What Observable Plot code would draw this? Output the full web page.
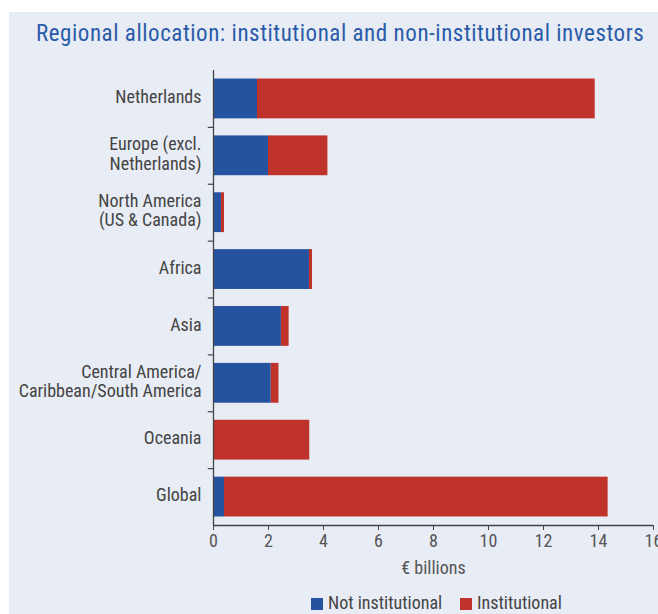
<!DOCTYPE html>
<html><head><meta charset="utf-8">
<script src="https://cdn.jsdelivr.net/npm/d3@7"></script>
<script src="https://cdn.jsdelivr.net/npm/@observablehq/plot@0.6"></script>
<style>
html,body{margin:0;padding:0;background:#fff;}
body{width:658px;height:614px;position:relative;overflow:hidden;font-family:"Liberation Sans Narrow","Roboto Condensed","DejaVu Sans Condensed",sans-serif;}
#panel{position:absolute;left:9px;top:12px;width:649px;height:602px;background:#e8ecf5;}
#title{position:absolute;left:36px;top:20px;font-size:23px;letter-spacing:0.55px;color:#2a5ba8;white-space:nowrap;line-height:28px;}
#chart{position:absolute;left:0;top:0;}
#legend{position:absolute;left:0;top:593px;width:658px;height:20px;font-size:18px;color:#444;}
.li{position:absolute;top:0;line-height:20px;white-space:nowrap;}
.sw{display:inline-block;width:12px;height:12px;vertical-align:-1px;margin-right:5px;}
</style></head>
<body>
<div id="panel"></div>
<div id="title">Regional allocation: institutional and non-institutional investors</div>
<div id="chart"></div>
<div id="legend"></div>
<script>
const regions = ["Netherlands","Europe (excl.\nNetherlands)","North America\n(US & Canada)","Africa","Asia","Central America/\nCaribbean/South America","Oceania","Global"];
const notInstitutional = [1.6, 2.0, 0.29, 3.49, 2.47, 2.1, 0.0, 0.4];
const institutional = [12.28, 2.16, 0.11, 0.11, 0.28, 0.28, 3.5, 13.95];
const seriesNames = ["Not institutional","Institutional"];
const seriesColors = ["#2553a0","#c0332a"];
const xTicks = [0,2,4,6,8,10,12,14,16];

const data = [];
regions.forEach((r,i)=>{
  data.push({region:r, series:seriesNames[0], value:notInstitutional[i]});
  data.push({region:r, series:seriesNames[1], value:institutional[i]});
});

const H = 585, mTop = 70, mBottom = 60;
const step = (H - mTop - mBottom) / regions.length;

const plot = Plot.plot({
  width: 658, height: H,
  marginLeft: 213, marginRight: 5, marginTop: mTop, marginBottom: mBottom,
  style: {background:"transparent", fontFamily:'"Liberation Sans Narrow","Roboto Condensed","DejaVu Sans Condensed",sans-serif', overflow:"visible"},
  x: {domain:[0,16]},
  y: {domain: regions, paddingInner:0.3, paddingOuter:0.15, round:false},
  color: {domain: seriesNames, range: seriesColors},
  marks: [
    Plot.barX(data, Plot.stackX({y:"region", x:"value", fill:"series", order: seriesNames})),
    Plot.ruleX([0], {stroke:"#444", strokeWidth:1.3}),
    Plot.ruleY(regions.slice(1), {y: d=>d, x1:-0.19, x2:0, dy:-step/2, stroke:"#444", strokeWidth:1.2}),
    Plot.ruleY([regions[regions.length-1]], {y:d=>d, x1:0, x2:16, dy:step/2, stroke:"#444", strokeWidth:1.3}),
    Plot.axisX({ticks: xTicks, tickSize:5, tickPadding:4, fontSize:18, color:"#555", stroke:"#444",
      label:"€ billions", labelAnchor:"center", labelOffset:48, labelArrow:"none"}),
    Plot.axisY({tickSize:0, tickPadding:12, fontSize:18, fill:"#444", lineHeight:1.07, dy:-2, label:null})
  ]
});
document.getElementById("chart").appendChild(plot);

const lg = document.getElementById("legend");
const lefts = [311, 460];
seriesNames.forEach((s,i)=>{
  const d = document.createElement("div");
  d.className = "li";
  d.style.left = lefts[i] + "px";
  d.innerHTML = `<span class="sw" style="background:${seriesColors[i]}"></span>${s}`;
  lg.appendChild(d);
});
</script>
</body></html>
